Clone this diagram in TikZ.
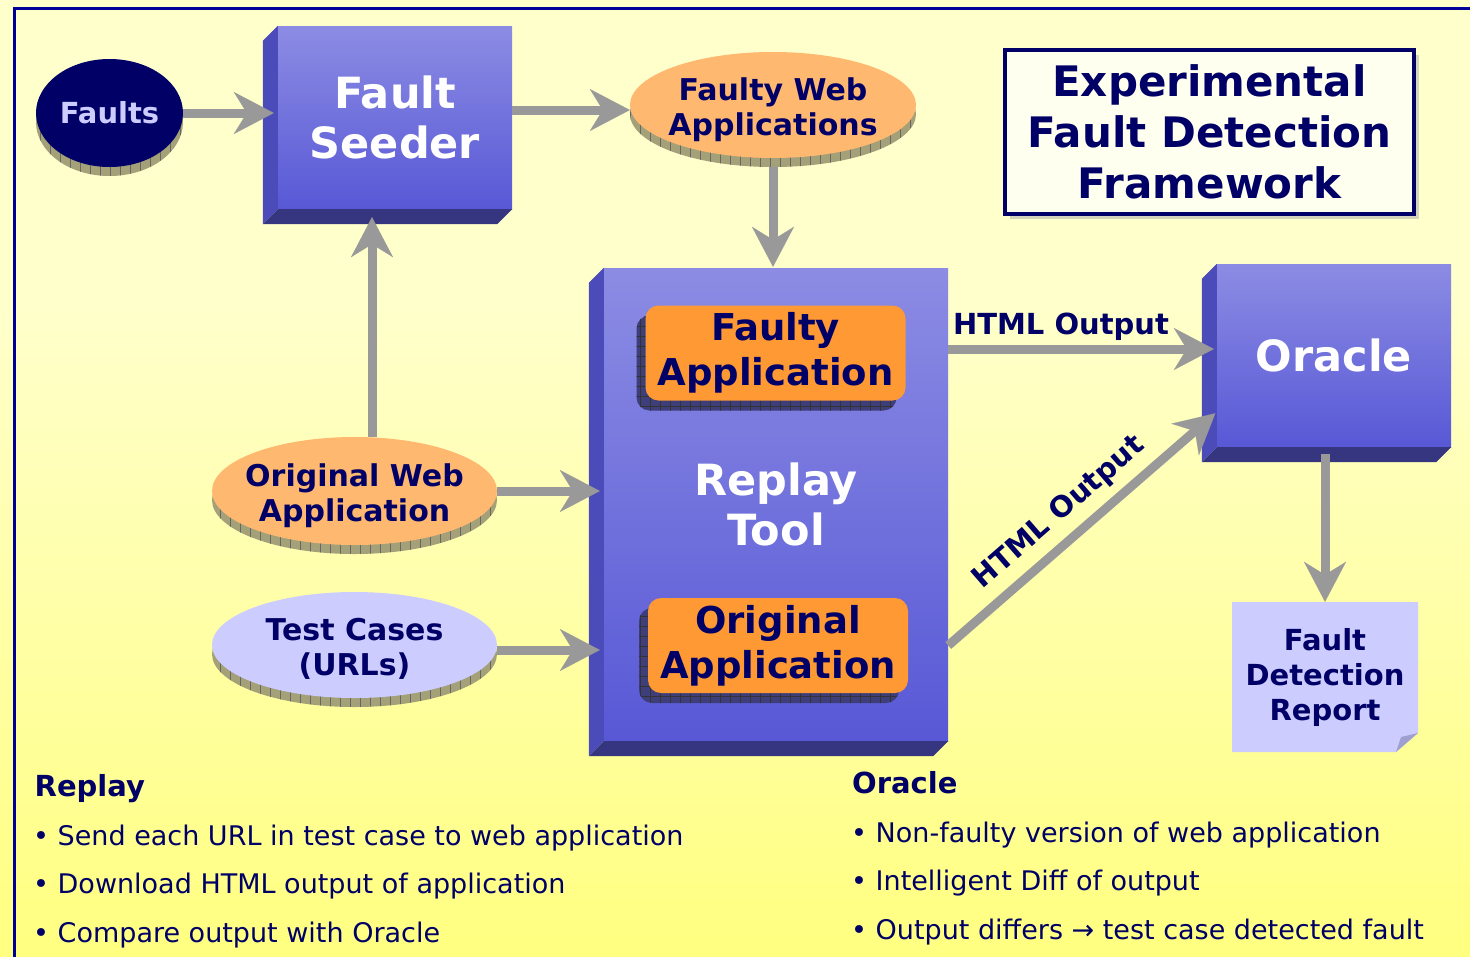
\documentclass[tikz,border=0pt]{standalone}
\usepackage{fontspec}
\setmainfont{DejaVu Sans}
\usetikzlibrary{arrows.meta,shapes.geometric,patterns.meta,shadows}

\definecolor{cNavy}{HTML}{000066}
\definecolor{cFrame}{HTML}{000099}
\definecolor{cBgTop}{HTML}{FFFFCC}
\definecolor{cBgBot}{HTML}{FFFF80}
\definecolor{cSlabTop}{HTML}{8C8CE4}
\definecolor{cSlabBot}{HTML}{5858D6}
\definecolor{cSlabSide}{HTML}{4B4BB9}
\definecolor{cSlabBase}{HTML}{363680}
\definecolor{cPeach}{HTML}{FFB870}
\definecolor{cOrange}{HTML}{FF9933}
\definecolor{cLav}{HTML}{CCCCFF}
\definecolor{cFold}{HTML}{A0A0D0}
\definecolor{cDiskEdge}{HTML}{A4A078}
\definecolor{cAppShadow}{HTML}{3E3E7A}
\definecolor{cTitleFill}{HTML}{FFFFF0}
\definecolor{cTitleShadow}{HTML}{D4D4BC}
\definecolor{cArrow}{HTML}{999999}

\newcommand\fsz[2]{\fontsize{#1}{#2}\selectfont}
% side and base faces of an extruded box (depth toward lower left)
\newcommand\slabsides[1]{%
  \fill[cSlabSide] (#1.north west) -- ++(-15,15) -- ([shift={(-15,15)}]#1.south west) -- (#1.south west) -- cycle;
  \fill[cSlabBase] (#1.south west) -- ++(-15,15) -- ([shift={(-15,15)}]#1.south east) -- (#1.south east) -- cycle;}

\tikzset{
  slab/.style={rectangle, inner sep=0pt, top color=cSlabTop, bottom color=cSlabBot,
    text=white, font=\bfseries\fsz{43}{50}, align=center},
  disk/.style={ellipse, inner xsep=-80pt, inner ysep=-40pt, text=cNavy,
    font=\bfseries\fsz{30}{35}, align=center, text height=63pt, text depth=2pt,
    general shadow={fill=cDiskEdge, shadow yshift=-9pt},
    general shadow={pattern={Lines[angle=90,distance=10pt,line width=0.6pt]},
      pattern color=black!60, shadow yshift=-9pt}},
  appbox/.style={rectangle, rounded corners=13pt, fill=cOrange, inner sep=0pt,
    minimum width=260pt, minimum height=95pt,
    text=cNavy, font=\bfseries\fsz{37}{45}, align=center,
    general shadow={fill=cAppShadow, shadow xshift=-9pt, shadow yshift=-10pt},
    general shadow={pattern={Hatch[angle=0,distance=10pt,line width=0.6pt]},
      pattern color=black!80, shadow xshift=-9pt, shadow yshift=-10pt}},
  flow/.style={draw=cArrow, line width=9pt,
    -{Stealth[length=40pt, width=42pt, inset=13pt, line width=0.1pt]}},
  flowlabel/.style={inner sep=0pt, text=cNavy, font=\bfseries\fsz{29}{35}},
  heading/.style={anchor=base west, inner sep=0pt, text=cNavy, font=\bfseries\fsz{29}{35}},
  bulletline/.style={anchor=base west, inner sep=0pt, text=cNavy, font=\fsz{27}{32}},
}

\begin{document}
\begin{tikzpicture}[x=1pt, y=-1pt]
\useasboundingbox (0,0) rectangle (1470,956);

% page background and frame
\fill[cBgTop] (0,0) rectangle (1470,301);
\shade[top color=cBgTop, bottom color=cBgBot] (0,300) rectangle (1470,956);
\draw[cFrame, line width=3pt] (14,960) -- (14,8) -- (1474,8);

% extruded boxes
\node[slab, minimum width=234pt, minimum height=183pt] (seeder) at (395,117.5) {Fault\\Seeder};
\slabsides{seeder}
\node[slab, minimum width=344pt, minimum height=473pt] (replay) at (776,504.5) {Replay\\Tool};
\slabsides{replay}
\node[slab, minimum width=234pt, minimum height=183pt] (oracle) at (1334,355.5) {Oracle};
\slabsides{oracle}

% inputs
\node[disk, fill=cNavy, text=cLav, font=\bfseries\fsz{29}{35}, text height=21pt, text depth=0pt,
  minimum width=147pt, minimum height=108pt] (faults) at (109.5,113) {Faults};
\node[disk, fill=cPeach, minimum width=286pt, minimum height=106pt] (fweb) at (773,105) {Faulty Web\\Applications};
\node[disk, fill=cPeach, minimum width=285pt, minimum height=108pt] (oweb) at (354.5,491) {Original Web\\Application};
\node[disk, fill=cLav, minimum width=285pt, minimum height=106pt] (tests) at (354.5,645) {Test Cases\\(URLs)};

% applications inside the replay tool
\node[appbox] (fapp) at (775.5,353) {Faulty\\Application};
\node[appbox] (oapp) at (778,645.5) {Original\\Application};

% title
\node[rectangle, draw=cNavy, line width=3.5pt, fill=cTitleFill, inner sep=0pt,
  minimum width=409pt, minimum height=164pt, text=cNavy,
  font=\bfseries\fsz{42}{51}, align=center,
  general shadow={fill=cTitleShadow, shadow xshift=5pt, shadow yshift=-5pt}]
  (title) at (1209.5,132) {Experimental\\Fault Detection\\Framework};

% report sheet with a curled corner
\node[rectangle, inner sep=0pt, minimum width=186pt, minimum height=150pt,
  text=cNavy, font=\bfseries\fsz{29}{35}, align=center,
  path picture={
    \fill[cLav] (path picture bounding box.north west) -- (path picture bounding box.north east)
      -- ([yshift=19pt]path picture bounding box.south east)
      -- ([xshift=-22pt]path picture bounding box.south east)
      -- (path picture bounding box.south west) -- cycle;
    \fill[cFold] ([yshift=19pt]path picture bounding box.south east)
      -- ([xshift=-22pt]path picture bounding box.south east)
      -- ([shift={(-17pt,15pt)}]path picture bounding box.south east) -- cycle;}]
  (report) at (1325,677) {Fault\\Detection\\Report};

% connectors
\coordinate (fwin) at ([yshift=-5pt]fweb.west);
\coordinate (seedin) at ([xshift=-23pt]seeder.south);
\coordinate (tcout) at ([yshift=-5pt]tests.east);
\coordinate (htmla) at ([yshift=155.5pt]replay.east);
\coordinate (htmlb) at (replay.east |- oapp.center);
\coordinate (orin) at ([yshift=-56.5pt]oracle.west);
\coordinate (orout) at (report.north |- oracle.south);

\draw[flow, shorten >=4pt] (faults.east) -- (faults.east -| seeder.west);
\draw[flow] (seeder.east |- fwin) -- (fwin);
\draw[flow, shorten <=9pt, shorten >=1pt] (fweb.south) -- (fweb.south |- replay.north);
\draw[flow, shorten >=8pt] (seedin |- oweb.north) -- (seedin);
\draw[flow, shorten >=4pt] (oweb.east) -- (oweb.east -| replay.west);
\draw[flow, shorten >=4pt] (tcout) -- (tcout -| replay.west);
\draw[flow, shorten >=3pt] (htmla) -- (htmla -| oracle.west)
  node[flowlabel, pos=0.42, above=4pt] (lblA) {HTML Output};
\draw[flow, shorten >=2pt] (htmlb) -- (orin)
  node[flowlabel, pos=0.48, sloped, above=9pt] (lblB) {HTML Output};
\draw[flow, shorten <=7pt] (orout) -- (report.north);

% notes below the diagram
\node[heading] (rhead) at (34.5,796) {Replay};
\node[bulletline] (r1) at (33,845) {• Send each URL in test case to web application};
\node[bulletline] (r2) at (33,893) {• Download HTML output of application};
\node[bulletline] (r3) at (33,942) {• Compare output with Oracle};
\node[heading] (ohead) at (852,793) {Oracle};
\node[bulletline] (o1) at (851,842) {• Non-faulty version of web application};
\node[bulletline] (o2) at (851,890) {• Intelligent Diff of output};
\node[bulletline] (o3) at (851,939) {• Output differs → test case detected fault};
\end{tikzpicture}
\end{document}
